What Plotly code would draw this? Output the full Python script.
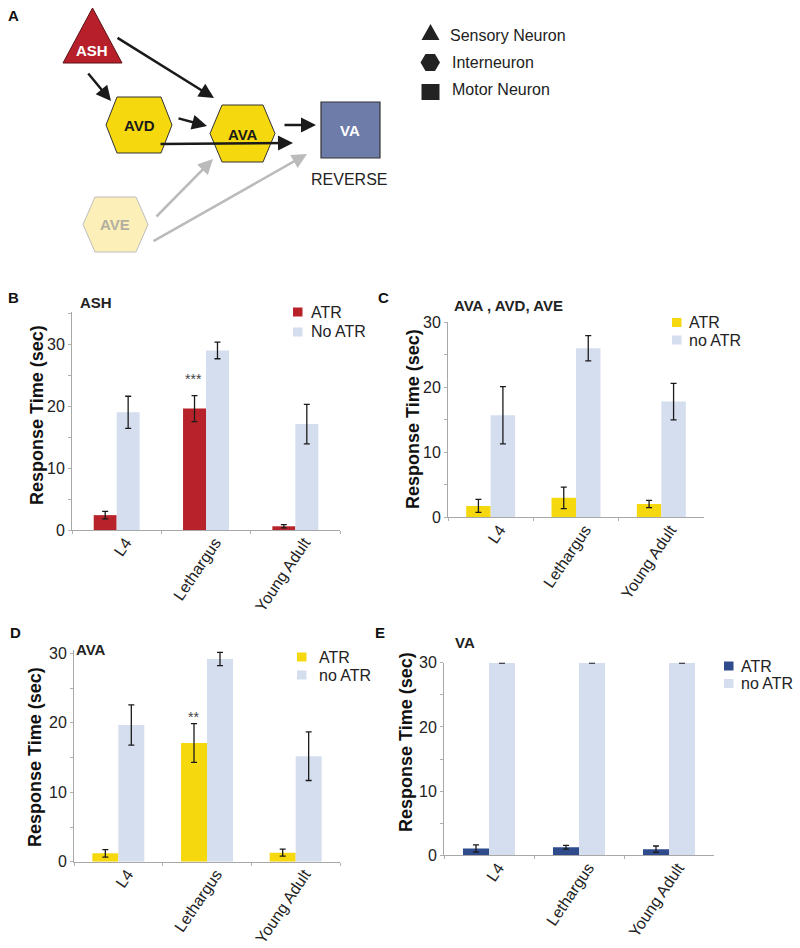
import plotly.graph_objects as go

categories = ["L4", "Lethargus", "Young Adult"]

# Panel B: ASH
ash_atr = [2.4, 19.6, 0.6]
ash_atr_err = [0.6, 2.1, 0.27]
ash_noatr = [19.0, 29.0, 17.1]
ash_noatr_err = [2.6, 1.35, 3.2]

# Panel C: AVA, AVD, AVE
avx_atr = [1.75, 3.0, 2.05]
avx_atr_err = [1.0, 1.65, 0.55]
avx_noatr = [15.7, 26.0, 17.8]
avx_noatr_err = [4.4, 1.95, 2.8]

# Panel D: AVA
ava_atr = [1.2, 17.1, 1.3]
ava_atr_err = [0.55, 2.8, 0.5]
ava_noatr = [19.7, 29.2, 15.2]
ava_noatr_err = [2.9, 0.95, 3.5]

# Panel E: VA
va_atr = [1.05, 1.25, 0.95]
va_atr_err = [0.57, 0.3, 0.5]
va_noatr = [30, 30, 30]
va_noatr_err = [0.05, 0.05, 0.05]

W, H = 800, 948
FONT = "Liberation Sans, Arial, sans-serif"
LIGHT = "#D4DEEF"
RED = "#B8232B"
YELLOW = "#F6D80F"
NAVY = "#2F4B8B"


def px(x):
    return x / W


def py(y):
    return 1 - y / H


panels = [
    dict(i=1, x0=72, x1=340, y0=312, y1=530, ymax=35.2, bw=0.257,
         atr=ash_atr, atr_e=ash_atr_err, no=ash_noatr, no_e=ash_noatr_err,
         c=RED, n1="ATR", n2="No ATR", title="ASH", tx=78, ty=303,
         sw=293, tx0=309, r1=312, r2=332, letter="B", lx=13, ly=297,
         star="***", sy=24.4, yt=(37, 415)),
    dict(i=2, x0=448, x1=704, y0=322.3, y1=517.3, ymax=30, bw=0.287,
         atr=avx_atr, atr_e=avx_atr_err, no=avx_noatr, no_e=avx_noatr_err,
         c=YELLOW, n1="ATR", n2="no ATR", title="AVA , AVD, AVE", tx=452, ty=305,
         sw=672, tx0=687, r1=322.5, r2=340, letter="C", lx=383, ly=297,
         star=None, sy=0, yt=(413, 419)),
    dict(i=3, x0=74, x1=340, y0=650, y1=861.7, ymax=30.5, bw=0.293,
         atr=ava_atr, atr_e=ava_atr_err, no=ava_noatr, no_e=ava_noatr_err,
         c=YELLOW, n1="ATR", n2="no ATR", title="AVA", tx=74, ty=649,
         sw=297, tx0=317, r1=657, r2=675, letter="D", lx=15, ly=632,
         star="**", sy=20.8, yt=(35, 757)),
    dict(i=4, x0=444, x1=714, y0=662.7, y1=855.3, ymax=30, bw=0.289,
         atr=va_atr, atr_e=va_atr_err, no=va_noatr, no_e=va_noatr_err,
         c=NAVY, n1="ATR", n2="no ATR", title="VA", tx=453, ty=642,
         sw=724, tx0=739, r1=666, r2=683.5, letter="E", lx=380, ly=632,
         star=None, sy=0, yt=(406, 742)),
]

fig = go.Figure()
annotations = []
shapes = []
layout = {}

for p in panels:
    i = p["i"]
    xa = "x" if i == 1 else f"x{i}"
    ya = "y" if i == 1 else f"y{i}"
    fig.add_trace(go.Bar(
        x=categories, y=p["atr"], name=p["n1"], xaxis=xa, yaxis=ya,
        marker=dict(color=p["c"], line=dict(width=0)),
        width=p["bw"], offset=-p["bw"], showlegend=False,
        error_y=dict(type="data", array=p["atr_e"], color="#1a1a1a",
                     thickness=1.3, width=3),
    ))
    fig.add_trace(go.Bar(
        x=categories, y=p["no"], name=p["n2"], xaxis=xa, yaxis=ya,
        marker=dict(color=LIGHT, line=dict(width=0)),
        width=p["bw"], offset=0, showlegend=False,
        error_y=dict(type="data", array=p["no_e"], color="#1a1a1a",
                     thickness=1.3, width=3),
    ))
    key = "" if i == 1 else str(i)
    layout[f"xaxis{key}"] = dict(
        domain=[px(p["x0"]), px(p["x1"])], anchor=ya,
        type="category", tickangle=-56, showline=True, linecolor="#A8A8A8",
        linewidth=1, ticks="outside", ticklen=3, tickcolor="#B0B0B0",
        tickson="boundaries", ticklabelshift=9, ticklabelstandoff=-4,
        tickfont=dict(size=16, color="#222222", family=FONT),
        automargin=False, fixedrange=True, showgrid=False, zeroline=False,
    )
    tv = list(range(0, int(p["ymax"]) + 1, 5))
    layout[f"yaxis{key}"] = dict(
        domain=[py(p["y1"]), py(p["y0"])], anchor=xa,
        range=[0, p["ymax"]], showline=True, linecolor="#A8A8A8", linewidth=1,
        ticks="outside", ticklen=3, tickcolor="#B0B0B0",
        tickvals=tv, ticktext=[str(v) if v % 10 == 0 else "" for v in tv],
        tickfont=dict(size=16, color="#222222", family=FONT),
        showgrid=False, zeroline=False, automargin=False, fixedrange=True,
    )
    # y-axis title
    annotations.append(dict(
        text="<b>Response Time (sec)</b>", x=px(p["yt"][0]), y=py(p["yt"][1]),
        xref="paper", yref="paper", xanchor="center", yanchor="middle",
        textangle=-90, showarrow=False,
        font=dict(size=18, color="#111111", family=FONT)))
    # legend key (swatch + label), two rows
    for (row, name, col) in [(p["r1"], p["n1"], p["c"]), (p["r2"], p["n2"], LIGHT)]:
        shapes.append(dict(type="rect", xref="paper", yref="paper",
                           x0=px(p["sw"]), x1=px(p["sw"] + 9.5),
                           y0=py(row + 4.5), y1=py(row - 4.5),
                           fillcolor=col, line=dict(width=0)))
        annotations.append(dict(
            text=name, x=px(p["tx0"]), y=py(row), xref="paper", yref="paper",
            xanchor="left", yanchor="middle", showarrow=False,
            font=dict(size=16, color="#222222", family=FONT)))
    annotations.append(dict(
        text=f"<b>{p['title']}</b>", x=px(p["tx"]), y=py(p["ty"]),
        xref="paper", yref="paper", xanchor="left", yanchor="middle",
        showarrow=False, font=dict(size=15, color="#222222", family=FONT),
    ))
    annotations.append(dict(
        text=f"<b>{p['letter']}</b>", x=px(p["lx"]), y=py(p["ly"]),
        xref="paper", yref="paper", xanchor="center", yanchor="middle",
        showarrow=False, font=dict(size=15, color="#111111", family=FONT),
    ))
    if p["star"]:
        annotations.append(dict(
            text=p["star"], x="Lethargus", y=p["sy"], xref=xa, yref=ya,
            xshift=-p["bw"] * (p["x1"] - p["x0"]) / 3 / 2 - 1,
            showarrow=False, yanchor="middle",
            font=dict(size=14, color="#444444", family=FONT),
        ))

# ---- Panel A: circuit diagram drawn on a hidden full-page axis ----
layout["xaxis5"] = dict(domain=[0, 1], range=[0, W], visible=False,
                        fixedrange=True, anchor="y5")
layout["yaxis5"] = dict(domain=[0, 1], range=[H, 0], visible=False,
                        fixedrange=True, anchor="x5")


def hexagon(l, r, t, b, inset):
    cy = (t + b) / 2
    return (f"M {l} {cy} L {l + inset} {t} L {r - inset} {t} L {r} {cy} "
            f"L {r - inset} {b} L {l + inset} {b} Z")


D = dict(xref="x5", yref="y5")
shapes.append(dict(type="path", path="M 63 63 L 122 63 L 92.5 8 Z",
                   fillcolor="#B7202A", line=dict(color="#5a1014", width=1), **D))
shapes.append(dict(type="path", path=hexagon(106, 172, 97, 153, 11),
                   fillcolor=YELLOW, line=dict(color="#333333", width=1), **D))
shapes.append(dict(type="path", path=hexagon(210, 275, 105, 162, 12),
                   fillcolor=YELLOW, line=dict(color="#333333", width=1), **D))
shapes.append(dict(type="path", path=hexagon(83, 148, 197, 252, 12),
                   fillcolor="#FCEFB8", line=dict(color="#BDBDBD", width=1), **D))
shapes.append(dict(type="rect", x0=321, x1=380, y0=102, y1=158,
                   fillcolor="#6E7CAA", line=dict(color="#333333", width=1.2), **D))
# key symbols
shapes.append(dict(type="path", path="M 421.5 40 L 439.5 40 L 430.5 24 Z",
                   fillcolor="#222222", line=dict(width=0), **D))
shapes.append(dict(type="path", path=hexagon(420.5, 440, 54, 71, 5),
                   fillcolor="#222222", line=dict(width=0), **D))
shapes.append(dict(type="rect", x0=421.5, x1=439.5, y0=84, y1=100,
                   fillcolor="#222222", line=dict(width=0), **D))
layout["shapes"] = shapes

arrows = [
    ((87, 72), (111, 101), "#1a1a1a"),
    ((116, 37), (214, 98), "#1a1a1a"),
    ((177, 118), (207, 126), "#1a1a1a"),
    ((283, 125), (316, 125), "#1a1a1a"),
    ((159, 144), (293, 143), "#1a1a1a"),
    ((155, 218), (213, 159), "#BBBBBB"),
    ((152, 242), (307, 154), "#BBBBBB"),
]
for (tx, ty), (hx, hy), col in arrows:
    annotations.append(dict(
        x=hx, y=hy, ax=tx, ay=ty, xref="x5", yref="y5", axref="x5", ayref="y5",
        text="", showarrow=True, arrowhead=2, arrowsize=1.2, arrowwidth=2.5,
        arrowcolor=col,
    ))

diag_text = [
    ("<b>ASH</b>", 92, 50, "#FFFFFF", 15),
    ("<b>AVD</b>", 139, 125, "#1a1a1a", 15),
    ("<b>AVA</b>", 243, 134, "#1a1a1a", 15),
    ("<b>VA</b>", 350, 130, "#FFFFFF", 15),
    ("<b>AVE</b>", 115, 224, "#B2AEA0", 15),
    ("REVERSE", 349, 179, "#222222", 16),
    ("<b>A</b>", 13, 15, "#111111", 15),
]
for t, x, y, col, s in diag_text:
    annotations.append(dict(text=t, x=x, y=y, xref="x5", yref="y5",
                            showarrow=False, xanchor="center", yanchor="middle",
                            font=dict(size=s, color=col, family=FONT)))
for t, x, y in [("Sensory Neuron", 448, 35), ("Interneuron", 450, 62),
                ("Motor Neuron", 450, 89)]:
    annotations.append(dict(text=t, x=x, y=y, xref="x5", yref="y5",
                            showarrow=False, xanchor="left", yanchor="middle",
                            font=dict(size=16, color="#222222", family=FONT)))

fig.update_layout(
    width=W, height=H, margin=dict(l=0, r=0, t=0, b=0),
    paper_bgcolor="white", plot_bgcolor="rgba(0,0,0,0)",
    barmode="overlay", annotations=annotations, showlegend=False,
    font=dict(family=FONT, color="#222222"),
    **layout,
)

fig.write_html("out.html", config={"displayModeBar": False},
               post_script="document.body.style.margin='0px';")
